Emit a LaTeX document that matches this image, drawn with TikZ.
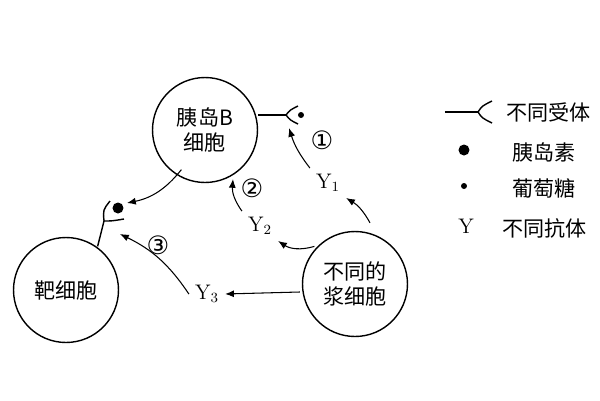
\documentclass[tikz,border=0pt]{standalone}
\usepackage{fontspec}
\newfontfamily\cjk{Noto Sans CJK SC}
\newfontfamily\sym{DejaVu Sans}
\usetikzlibrary{arrows.meta}
\tikzset{
  cell/.style={shape=circle,draw=black,line width=0.8pt,minimum size=2.1cm,font=\cjk\large,align=center,inner sep=0pt},
  flow/.style={-{Latex[length=5pt,width=4pt]},line width=0.6pt},
  lbl/.style={font=\large},
  cup/.style={line width=0.8pt}
}
\begin{document}
\begin{tikzpicture}[x=0.02cm,y=-0.02cm]
    \useasboundingbox (0,0) rectangle (600,400);
    \node[cell] (B) at (205,130) {胰岛B\\细胞};
    \node[cell] (T) at (66,290) {靶细胞};
    \node[cell] (P) at (355,284) {不同的\\浆细胞};

    % receptor on the B cell
    \coordinate (r1) at (286,115);
    \draw[cup] (B.east |- r1) -- (r1);
    \draw[cup] (298,106) .. controls (290,110) .. (r1) .. controls (290,120) .. (298,124);
    \fill (301,115) circle (3);
    % receptor on the target cell
    \coordinate (r2) at (104,221);
    \draw[cup] (T.north east) ++(-6,-6) coordinate (t1) -- (r2);
    \draw[cup] (110,201) .. controls (103,210) .. (r2) .. controls (112,221) .. (124,219);
    \fill (118,208) circle (5.5);

    \node[lbl] (Y1) at (328,183) {$\mathrm{Y}_1$};
    \node[lbl] (Y2) at (260,226) {$\mathrm{Y}_2$};
    \node[lbl] (Y3) at (207,294) {$\mathrm{Y}_3$};
    \node[font=\sym\Large] (n1) at (322,140) {①};
    \node[font=\sym\Large] (n2) at (252,188) {②};
    \node[font=\sym\Large] (n3) at (158,245) {③};
    \coordinate (a1) at (289,128);
    \coordinate (a2) at (233,179);
    \coordinate (a3) at (120,234);
    \coordinate (a4) at (127,203);

    \draw[flow] (P.north) ++(15,-8) to[bend right=15] (Y1.south east);
    \draw[flow] (Y1.north west) to[bend left=10] (a1);
    \draw[flow] (P.north west) ++(-3,0) to[bend left=25] (Y2.south east);
    \draw[flow] (Y2.north west) to[bend left=20] (a2);
    \draw[flow] (P.west) ++(-2,8) -- (Y3.east);
    \draw[flow] (Y3.west) to[bend right=15] (a3);
    \draw[flow] (B.south west) ++(14,2) to[bend left=20] (a4);

    % legend
    \coordinate (k1) at (478,112);
    \draw[cup] (445,112) -- (k1);
    \draw[cup] (492,101) .. controls (482,106) .. (k1) .. controls (482,118) .. (492,123);
    \node[font=\cjk\large,anchor=west] (t1) at (500,112) {不同受体};
    \fill (464,150) circle (5.5);
    \node[font=\cjk\large,anchor=west] (t2) at (506,152) {胰岛素};
    \fill (464,186) circle (3);
    \node[font=\cjk\large,anchor=west] (t3) at (506,188) {葡萄糖};
    \node[font=\large] (ky) at (466,226) {Y};
    \node[font=\cjk\large,anchor=west] (t4) at (496,228) {不同抗体};
\end{tikzpicture}
\end{document}
